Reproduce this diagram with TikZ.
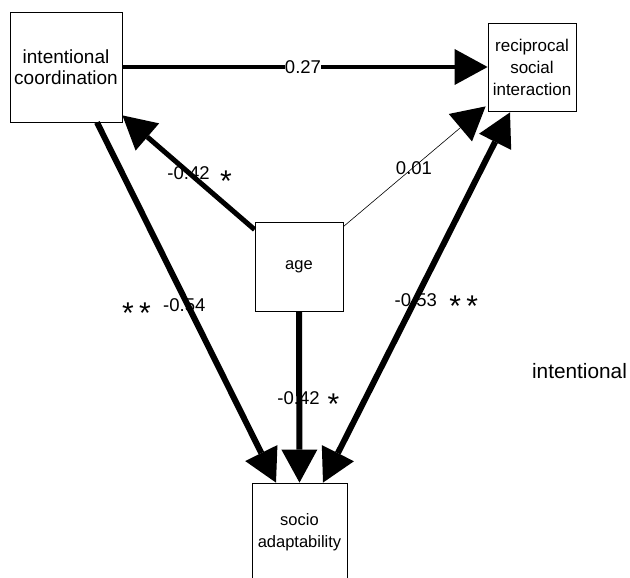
\documentclass[tikz,border=0pt]{standalone}
\usepackage{fontspec}
\setmainfont{Liberation Sans}
\usetikzlibrary{arrows.meta}

\begin{document}
\begin{tikzpicture}[x=1pt, y=-1pt,
  box/.style={draw, line width=0.8pt, fill=white, align=center, inner sep=0pt},
  lbl/.style={font=\fontsize{18.5}{21}\selectfont, inner sep=0pt},
  starlbl/.style={font=\fontsize{30}{32}\selectfont, inner sep=0pt},
  bigtip/.tip={Triangle[length=33pt, width=36pt, line width=0pt]},
  link/.style={-bigtip},
  twoway/.style={bigtip-bigtip}]
\useasboundingbox (0,0) rectangle (630,578);

% variables
\node[box, minimum width=112pt, minimum height=110pt,
      font=\fontsize{19}{21}\selectfont] (ic) at (66,67) {intentional\\coordination};
\node[box, minimum width=88pt, minimum height=88pt,
      font=\fontsize{17}{22}\selectfont] (rsi) at (532,67) {reciprocal\\social\\interaction};
\node[box, minimum width=88pt, minimum height=89pt,
      font=\fontsize{16.5}{20}\selectfont] (age) at (299,266.5) {age};
\node[box, minimum width=95pt, minimum height=98pt,
      font=\fontsize{16.5}{22}\selectfont] (sa) at (299.5,532) {socio\\adaptability};

% paths
\draw[link, line width=4pt] (ic.east) -- (rsi.west);
\draw[link, line width=5pt] ([yshift=-8pt]age.north west) -- ([yshift=7pt]ic.south east);
\draw[link, line width=0.6pt] ([yshift=-5pt]age.north east) -- ([xshift=-2pt,yshift=5pt]rsi.south west);
\draw[link, line width=6pt] (age.south) -- (sa.north);
\draw[link, line width=6pt] ([xshift=31pt]ic.south) -- ([xshift=-23.5pt]sa.north);
\draw[twoway, line width=6pt] ([xshift=23.5pt]sa.north) -- ([xshift=-22pt,yshift=-1pt]rsi.south);

% coefficients
\node[lbl, fill=white] (c1) at (303,67) {0.27};
\node[lbl] (c2) at (188.5,173.3) {-0.42};
\node[starlbl] (s2) at (226,181.4) {*};
\node[lbl] (c3) at (414,168) {0.01};
\node[lbl] (c4) at (184.3,305) {-0.54};
\node[starlbl] (s4) at (136.5,312.9) {*\hspace{5.3pt}*};
\node[lbl] (c5) at (415.8,300.5) {-0.53};
\node[starlbl] (s5) at (463.7,306.4) {*\hspace{5.3pt}*};
\node[lbl] (c6) at (298.5,398.5) {-0.42};
\node[starlbl] (s6) at (333.5,404.4) {*};

% stray caption
\node[font=\fontsize{20.8}{24}\selectfont, anchor=base, inner sep=0pt] (cap) at (579.5,378) {intentional};
\end{tikzpicture}
\end{document}
